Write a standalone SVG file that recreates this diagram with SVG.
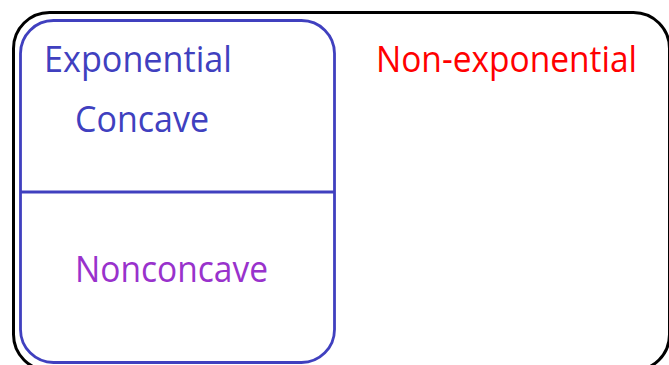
<svg xmlns="http://www.w3.org/2000/svg" width="669" height="365" viewBox="0 0 669 365">
  <style>
    .lbl { font-family: "Open Sans", "DejaVu Sans", sans-serif; font-size: 37px; }
    .blue { fill: #4040BF; }
    .purple { fill: #9932CC; }
    .red { fill: #FF0000; }
    .frame { fill: #FFFFFF; stroke: #000000; stroke-width: 3; }
    .box { fill: none; stroke: #4040BF; stroke-width: 2.8; }
  </style>
  <rect width="669" height="365" fill="#FFFFFF"/>
  <g id="all-functions">
    <rect class="frame" x="13.5" y="12.5" width="656" height="358" rx="36" ry="36"/>
    <text class="lbl red" x="376" y="72" textLength="261" lengthAdjust="spacingAndGlyphs">Non-exponential</text>
  </g>
  <g id="exponential">
    <rect class="box" x="20.5" y="20.5" width="314" height="342" rx="33" ry="33"/>
    <text class="lbl blue" x="44" y="72" textLength="188" lengthAdjust="spacingAndGlyphs">Exponential</text>
  </g>
  <g id="concave">
    <text class="lbl blue" x="75" y="132" textLength="134" lengthAdjust="spacingAndGlyphs">Concave</text>
  </g>
  <g id="connectors">
    <line x1="20.5" y1="192" x2="334.5" y2="192" stroke="#4040BF" stroke-width="2.8"/>
  </g>
  <g id="nonconcave">
    <text class="lbl purple" x="75" y="282" textLength="193" lengthAdjust="spacingAndGlyphs">Nonconcave</text>
  </g>
</svg>
